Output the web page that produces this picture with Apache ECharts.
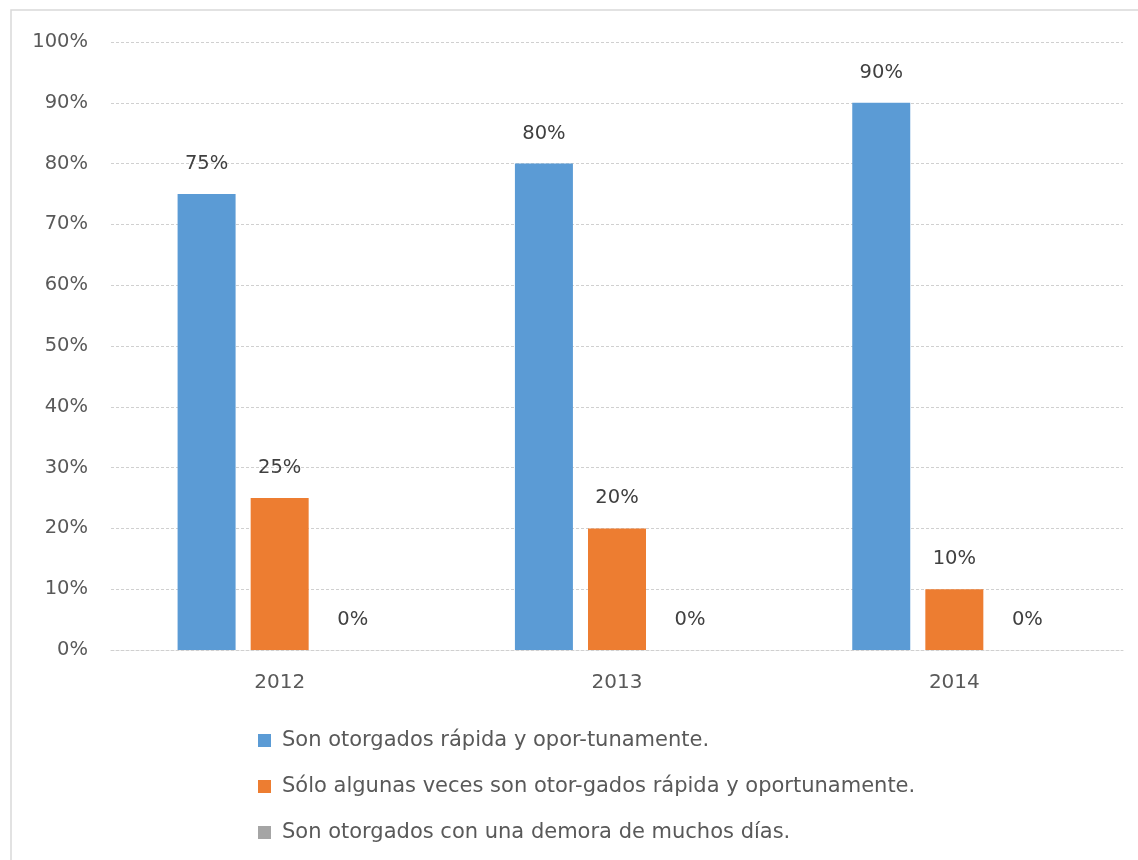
<!DOCTYPE html>
<html>
<head>
<meta charset="utf-8">
<script src="https://cdn.jsdelivr.net/npm/echarts@6/dist/echarts.min.js"></script>
<style>
  html, body { margin: 0; padding: 0; background: #fff; }
  #chart { width: 1138px; height: 860px; }
</style>
</head>
<body>
<div id="chart"></div>
<script>
// Years on the category axis
const years = ['2012', '2013', '2014'];

// Share of responses per year (percent)
const rapidos = [75, 80, 90];
const algunasVeces = [25, 20, 10];
const conDemora = [0, 0, 0];

const seriesNames = [
  'Son otorgados rápida y opor-tunamente.',
  'Sólo algunas veces son otor-gados rápida y oportunamente.',
  'Son otorgados con una demora de muchos días.'
];
const seriesColors = ['#5B9BD5', '#ED7D31', '#A5A5A5'];

const FONT = '"DejaVu Sans", sans-serif';
const TEXT = '#595959';

const chart = echarts.init(document.getElementById('chart'), null, { renderer: 'canvas' });

function barSeries(name, data, color) {
  return {
    name: name,
    type: 'bar',
    data: data,
    barWidth: 58,
    barGap: '26%',
    itemStyle: { color: color },
    label: {
      show: true,
      position: 'top',
      distance: 20,
      formatter: p => p.value + '%',
      color: '#404040',
      fontFamily: FONT,
      fontSize: 19.5
    }
  };
}

chart.setOption({
  backgroundColor: '#ffffff',
  animation: false,
  graphic: [{
    type: 'rect',
    shape: { x: 11, y: 10, width: 1140, height: 860 },
    style: { fill: 'none', stroke: '#d9d9d9', lineWidth: 1.5 },
    silent: true
  }],
  grid: { left: 111, right: 15, top: 42, bottom: 210, containLabel: false },
  xAxis: {
    type: 'category',
    data: years,
    axisLine: { show: true, lineStyle: { color: '#d0d0d0', type: [3, 2] } },
    axisTick: { show: false },
    axisLabel: { color: TEXT, fontFamily: FONT, fontSize: 20, margin: 23 }
  },
  yAxis: {
    type: 'value',
    min: 0,
    max: 100,
    interval: 10,
    axisLine: { show: false },
    axisTick: { show: false },
    axisLabel: {
      formatter: '{value}%',
      color: TEXT,
      fontFamily: FONT,
      fontSize: 19.5,
      margin: 23
    },
    splitLine: { show: true, lineStyle: { color: '#d0d0d0', type: [3, 2], width: 1 } }
  },
  legend: {
    orient: 'vertical',
    left: 258,
    top: 729,
    padding: 0,
    itemGap: 23,
    itemWidth: 13,
    itemHeight: 13,
    icon: 'rect',
    textStyle: {
      color: TEXT,
      fontFamily: FONT,
      fontSize: 21,
      lineHeight: 23,
      padding: [0, 0, 0, 6]
    },
    data: seriesNames
  },
  series: [
    barSeries(seriesNames[0], rapidos, seriesColors[0]),
    barSeries(seriesNames[1], algunasVeces, seriesColors[1]),
    barSeries(seriesNames[2], conDemora, seriesColors[2])
  ]
});
</script>
</body>
</html>
